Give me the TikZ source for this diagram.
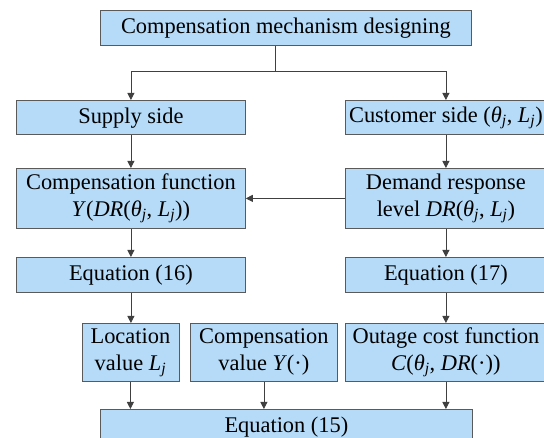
\documentclass[tikz,border=0pt]{standalone}
\usepackage{fontspec}
\setmainfont{Liberation Serif}
\usetikzlibrary{arrows.meta}
\definecolor{boxfill}{RGB}{181,219,248}
\definecolor{boxline}{RGB}{90,90,90}
\definecolor{arrline}{RGB}{64,64,64}
\newcommand\iv[1]{\textit{#1}}
\newcommand\isub[1]{\textsubscript{\textit{#1}}}
\begin{document}
\begin{tikzpicture}[x=1pt,y=-1pt,>={Triangle[length=7pt,width=7pt]},
		box/.style={draw=boxline,fill=boxfill,line width=0.8pt,anchor=north west,inner sep=0pt,align=center,font=\fontsize{22.4}{27}\selectfont},
		conn/.style={draw=arrline,line width=0.8pt}]
	\useasboundingbox (0,0) rectangle (544,438);
	\clip (0,0) rectangle (544,438);
	% boxes
	\node[box,minimum width=371pt,minimum height=35pt] (top) at (100,10) {Compensation mechanism designing};
	\node[box,minimum width=229pt,minimum height=34.5pt] (supply) at (16,100) {Supply side};
	\node[box,minimum width=201pt,minimum height=34.5pt] (customer) at (345,100) {Customer side (\iv{θ}\isub{j}, \iv{L}\isub{j})};
	\node[box,minimum width=229pt,minimum height=60pt] (compfunc) at (16,168) {Compensation function\\\iv{Y}(\iv{DR}(\iv{θ}\isub{j}, \iv{L}\isub{j}))};
	\node[box,minimum width=201pt,minimum height=60pt] (demand) at (345,168) {Demand response\\level \iv{DR}(\iv{θ}\isub{j}, \iv{L}\isub{j})};
	\node[box,minimum width=229pt,minimum height=35pt] (eqA) at (16,257) {Equation (16)};
	\node[box,minimum width=201pt,minimum height=35pt] (eqB) at (345,257) {Equation (17)};
	\node[box,minimum width=97pt,minimum height=58pt] (location) at (81.5,323) {Location\\value \iv{L}\isub{j}};
	\node[box,minimum width=147pt,minimum height=58pt] (compval) at (190,323) {Compensation\\value \iv{Y}(·)};
	\node[box,minimum width=201pt,minimum height=58pt] (outage) at (345,323) {Outage cost function\\\iv{C}(\iv{θ}\isub{j}, \iv{DR}(·))};
	\node[box,minimum width=372pt,minimum height=35pt] (eqC) at (100,409) {Equation (15)};
	% connectors
	\coordinate (split) at (275,71);
	\draw[conn] (top.south -| split) -- (split);
	\draw[conn,->] (split) -| (supply.north);
	\draw[conn,->] (split) -| (customer.north);
	\draw[conn,->] (supply) -- (compfunc);
	\draw[conn,->] (customer) -- (demand);
	\draw[conn,->] (demand) -- (compfunc);
	\draw[conn,->] (compfunc) -- (eqA);
	\draw[conn,->] (demand) -- (eqB);
	\draw[conn,->] (eqA.south) -- (eqA.south |- location.north);
	\draw[conn,->] (eqB) -- (outage);
	\draw[conn,->] (location.south) -- (location.south |- eqC.north);
	\draw[conn,->] (compval.south) -- (compval.south |- eqC.north);
	\draw[conn,->] (outage.south) -- (outage.south |- eqC.north);
\end{tikzpicture}
\end{document}
